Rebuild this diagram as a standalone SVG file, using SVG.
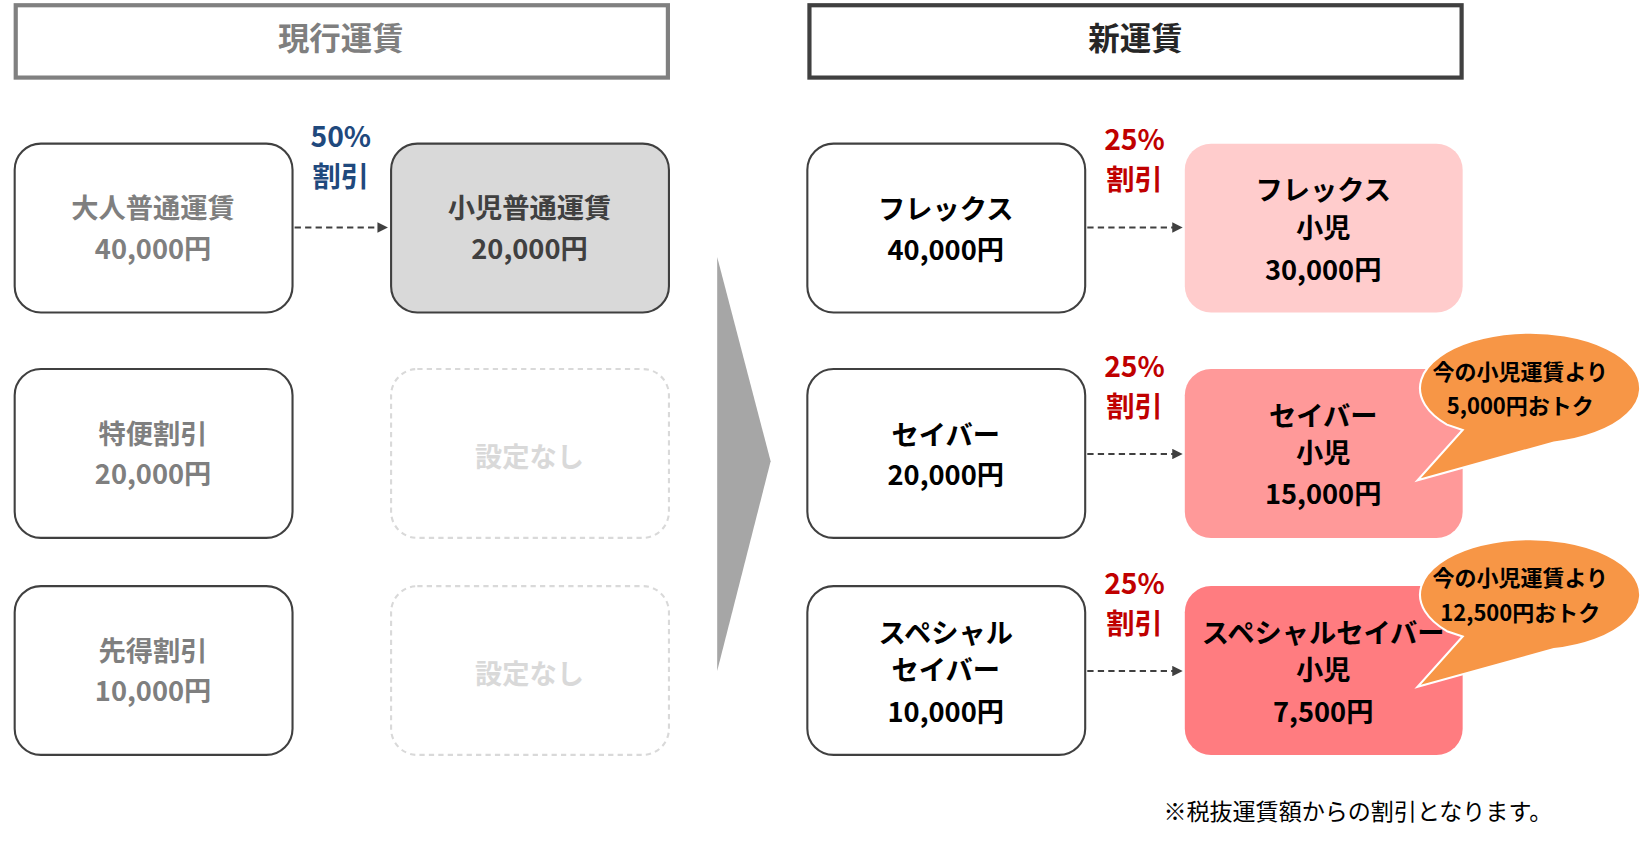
<svg xmlns="http://www.w3.org/2000/svg" width="1644" height="845" viewBox="0 0 1644 845">
<defs>
<style>
text{font-family:"Noto Sans CJK JP","Liberation Sans",sans-serif;font-weight:bold;text-anchor:middle}
.t{font-size:26px}
.g{fill:#7f7f7f}.d{fill:#404040}.k{fill:#000}
.box{stroke:#404040;stroke-width:2}
.pct{font-size:27px}
.cl{font-size:21px;fill:#000}
.dash{stroke:#404040;stroke-width:2;stroke-dasharray:6 4;fill:none;marker-end:url(#ah)}
</style>
<marker id="ah" viewBox="0 0 10 10" refX="9" refY="5" markerWidth="5" markerHeight="5" orient="auto"><path d="M0,0L10,5L0,10z" fill="#404040"/></marker>
</defs>
<rect width="1644" height="845" fill="#fff"/>
<g transform="scale(1.0485)">
<g id="hdr-current"><rect x="15" y="5" width="622" height="69" fill="#fff" stroke="#808080" stroke-width="4"/><text x="325" y="48" class="g" font-size="30">現行運賃</text></g>
<g id="hdr-new"><rect x="772" y="5" width="622" height="69" fill="#fff" stroke="#404040" stroke-width="4"/><text x="1083" y="48" class="d" font-size="30" style="fill:#262626">新運賃</text></g>

<g id="adult"><rect class="box" x="14" y="137" width="265" height="161" rx="25" fill="#fff"/><text class="t g" x="146" y="208">大人普通運賃</text><text class="t g" x="146" y="247">40,000円</text></g>
<g id="child"><rect class="box" x="373" y="137" width="265" height="161" rx="25" fill="#d9d9d9"/><text class="t d" x="505" y="208">小児普通運賃</text><text class="t d" x="505" y="247">20,000円</text></g>
<g id="tokubin"><rect class="box" x="14" y="352" width="265" height="161" rx="25" fill="#fff"/><text class="t g" x="146" y="423">特便割引</text><text class="t g" x="146" y="462">20,000円</text></g>
<g id="none1"><rect x="373" y="352" width="265" height="161" rx="25" fill="#fff" stroke="#d9d9d9" stroke-width="2" stroke-dasharray="5 4"/><text class="t" style="fill:#d9d9d9" x="505" y="445">設定なし</text></g>
<g id="sakitoku"><rect class="box" x="14" y="559" width="265" height="161" rx="25" fill="#fff"/><text class="t g" x="146" y="630">先得割引</text><text class="t g" x="146" y="669">10,000円</text></g>
<g id="none2"><rect x="373" y="559" width="265" height="161" rx="25" fill="#fff" stroke="#d9d9d9" stroke-width="2" stroke-dasharray="5 4"/><text class="t" style="fill:#d9d9d9" x="505" y="652">設定なし</text></g>

<g id="chevron"><path d="M684,245L735,440L684,640Z" fill="#a6a6a6"/></g>

<g id="flex"><rect class="box" x="770" y="137" width="265" height="161" rx="25" fill="#fff"/><text class="t k" x="902" y="209">フレックス</text><text class="t k" x="902" y="248">40,000円</text></g>
<g id="flex-child"><rect x="1130" y="137" width="265" height="161" rx="25" fill="#ffcccc"/><text class="t k" x="1262" y="191">フレックス</text><text class="t k" x="1262" y="227">小児</text><text class="t k" x="1262" y="267">30,000円</text></g>
<g id="saver"><rect class="box" x="770" y="352" width="265" height="161" rx="25" fill="#fff"/><text class="t k" x="902" y="424">セイバー</text><text class="t k" x="902" y="463">20,000円</text></g>
<g id="saver-child"><rect x="1130" y="352" width="265" height="161" rx="25" fill="#ff9999"/><text class="t k" x="1262" y="406">セイバー</text><text class="t k" x="1262" y="442">小児</text><text class="t k" x="1262" y="481">15,000円</text></g>
<g id="special"><rect class="box" x="770" y="559" width="265" height="161" rx="25" fill="#fff"/><text class="t k" x="902" y="613">スペシャル</text><text class="t k" x="902" y="649">セイバー</text><text class="t k" x="902" y="689">10,000円</text></g>
<g id="special-child"><rect x="1130" y="559" width="265" height="161" rx="25" fill="#ff7c80"/><text class="t k" x="1262" y="613">スペシャルセイバー</text><text class="t k" x="1262" y="649">小児</text><text class="t k" x="1262" y="689">7,500円</text></g>

<g id="connectors">
<path class="dash" d="M281,217H369"/>
<path class="dash" d="M1037,217H1127"/>
<path class="dash" d="M1037,433H1127"/>
<path class="dash" d="M1037,640H1127"/>
</g>
<g id="labels">
<text class="pct" x="325" y="140" style="fill:#1f497d">50%</text><text class="pct" x="325" y="178" style="fill:#1f497d">割引</text>
<text class="pct" x="1082" y="143" style="fill:#c00000">25%</text><text class="pct" x="1082" y="181" style="fill:#c00000">割引</text>
<text class="pct" x="1082" y="360" style="fill:#c00000">25%</text><text class="pct" x="1082" y="398" style="fill:#c00000">割引</text>
<text class="pct" x="1082" y="567" style="fill:#c00000">25%</text><text class="pct" x="1082" y="605" style="fill:#c00000">割引</text>
</g>
<g id="callout1"><path d="M1380,405 A105,53 0 1 1 1482,422 L1352,458 L1395,410 Z" fill="#f79646" stroke="#fff" stroke-width="2"/><text class="cl" x="1450" y="362">今の小児運賃より</text><text class="cl" x="1450" y="395">5,000円おトク</text></g>
<g id="callout2"><path d="M1380,602 A105,53 0 1 1 1482,619 L1352,655 L1395,607 Z" fill="#f79646" stroke="#fff" stroke-width="2"/><text class="cl" x="1450" y="559">今の小児運賃より</text><text class="cl" x="1450" y="592">12,500円おトク</text></g>
<text x="1295" y="782" font-size="22" style="font-weight:normal;fill:#000">※税抜運賃額からの割引となります。</text>
</g>
</svg>
